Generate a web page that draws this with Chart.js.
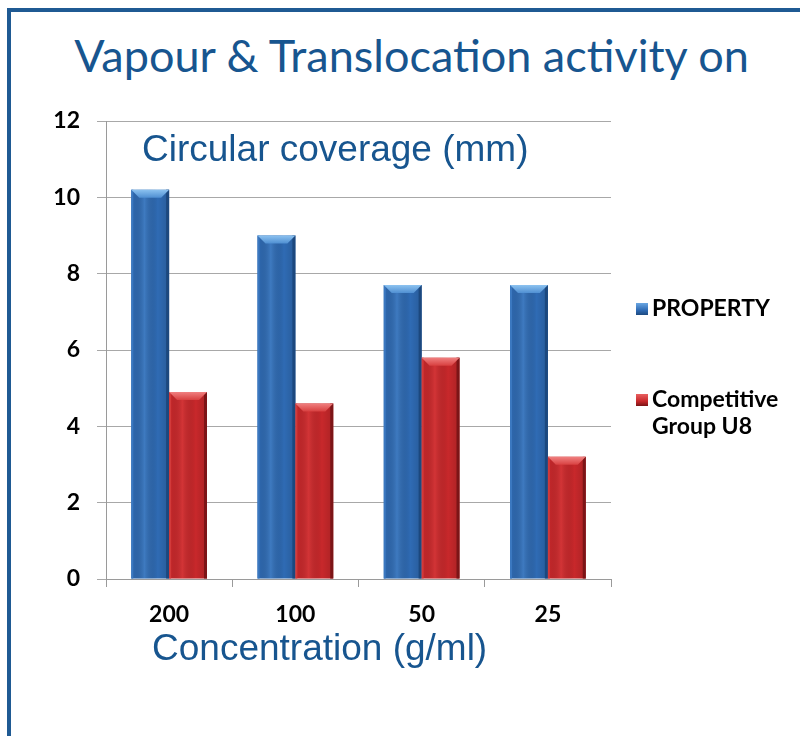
<!DOCTYPE html>
<html>
<head>
<meta charset="utf-8">
<script src="https://cdn.jsdelivr.net/npm/chart.js@4/dist/chart.umd.min.js"></script>
<style>
html,body{margin:0;padding:0;background:#fff;}
#wrap{position:relative;width:800px;height:736px;overflow:hidden;background:#fff;}
#topb{position:absolute;left:7px;top:8px;width:793px;height:4px;background:#1f5a93;}
#leftb{position:absolute;left:7px;top:8px;width:4px;height:728px;background:#1f5a93;}
#title{position:absolute;left:0;width:823px;top:28px;text-align:center;font-family:Lato,"Open Sans",sans-serif;font-size:45px;color:#17558f;white-space:nowrap;}
canvas{position:absolute;left:0;top:0;}
.ov{position:absolute;font-family:"Liberation Sans",Arial,sans-serif;color:#17558f;white-space:nowrap;}
#leg{position:absolute;left:636px;top:294px;font-family:Lato,sans-serif;font-weight:bold;font-size:23px;color:#000;}
.li{position:relative;padding-left:16px;line-height:27px;}
.sw{position:absolute;left:0;top:9px;width:12px;height:12px;}
</style>
</head>
<body>
<div id="wrap">
  <div id="topb"></div>
  <div id="leftb"></div>
  <div id="title">Vapour &amp; Translocation activity on</div>
  <canvas id="c" width="800" height="736"></canvas>
  <div class="ov" style="left:142px;top:128px;font-size:37px;">Circular coverage (mm)</div>
  <div class="ov" style="left:152px;top:627px;font-size:37px;">Concentration (g/ml)</div>
  <div id="leg">
    <div class="li"><span class="sw" style="background:linear-gradient(#6aa6e2,#2f6bb4 60%,#1d4a80);"></span>PROPERTY</div>
    <div class="li" style="margin-top:64px;"><span class="sw" style="background:linear-gradient(#e86060,#c8282b 60%,#7a1416);"></span>Competitive<br>Group U8</div>
  </div>
</div>
<script>
const categories = ["200", "100", "50", "25"];
const propertyValues = [10.2, 9.0, 7.7, 7.7];
const competitiveValues = [4.9, 4.6, 5.8, 3.2];
const yTicks = [0, 2, 4, 6, 8, 10, 12];
const seriesNames = ["PROPERTY", "Competitive Group U8"];

const bevel = {
  id: 'bevel',
  afterDatasetsDraw(chart) {
    const ctx = chart.ctx;
    const styles = [
      {cap:['#8cc2f0','#4f8fd2'], l:'#3b78c0', r:'#1c487e', mid:'rgba(90,150,215,0.35)'},
      {cap:['#f08080','#d84040'], l:'#d23a3a', r:'#7c1517', mid:'rgba(235,80,80,0.3)'}
    ];
    chart.data.datasets.forEach((ds, di) => {
      const meta = chart.getDatasetMeta(di);
      const st = styles[di];
      meta.data.forEach(bar => {
        const p = bar.getProps(['x','y','base','width'], true);
        const L = p.x - p.width/2, R = p.x + p.width/2, T = p.y, B = p.base;
        const b = Math.min(8, p.width/4);
        ctx.save();
        const hg = ctx.createLinearGradient(L, 0, R, 0);
        hg.addColorStop(0, 'rgba(0,0,0,0)');
        hg.addColorStop(0.35, st.mid);
        hg.addColorStop(0.7, 'rgba(0,0,0,0)');
        hg.addColorStop(1, 'rgba(0,0,0,0.15)');
        ctx.fillStyle = hg; ctx.fillRect(L, T, R - L, B - T);
        ctx.fillStyle = st.l; ctx.fillRect(L, T, 2, B - T);
        ctx.fillStyle = st.r; ctx.fillRect(R - 3, T, 3, B - T);
        const g = ctx.createLinearGradient(0, T, 0, T + b);
        g.addColorStop(0, st.cap[0]); g.addColorStop(1, st.cap[1]);
        ctx.fillStyle = g;
        ctx.beginPath();
        ctx.moveTo(L, T); ctx.lineTo(R, T); ctx.lineTo(R - b, T + b); ctx.lineTo(L + b, T + b); ctx.closePath();
        ctx.fill();
        ctx.restore();
      });
    });
  }
};

new Chart(document.getElementById('c'), {
  type: 'bar',
  data: {
    labels: categories,
    datasets: [
      {label: seriesNames[0], data: propertyValues, backgroundColor: '#2f6bb4', borderWidth: 0},
      {label: seriesNames[1], data: competitiveValues, backgroundColor: '#c8282b', borderWidth: 0}
    ]
  },
  options: {
    responsive: false,
    animation: false,
    devicePixelRatio: 1,
    layout: {padding: {left: 0, right: 189, top: 121, bottom: 97}},
    plugins: {legend: {display: false}, tooltip: {enabled: false}, title: {display: false}},
    datasets: {bar: {categoryPercentage: 0.6, barPercentage: 1}},
    scales: {
      x: {
        grid: {display: true, drawOnChartArea: false, drawTicks: true, tickLength: 8, color: '#9a9a9a', offset: true},
        border: {display: true, color: '#9a9a9a', width: 1},
        ticks: {color: '#000', font: {family: 'Lato', weight: 'bold', size: 23}, padding: 14},
        afterFit(s) { s.height = 60; }
      },
      y: {
        min: 0, max: 12,
        afterBuildTicks(s) { s.ticks = yTicks.map(v => ({value: v})); },
        grid: {color: '#a8a8a8', tickLength: 9, drawTicks: true},
        border: {display: true, color: '#9a9a9a'},
        ticks: {color: '#000', font: {family: 'Lato', weight: 'bold', size: 23}, padding: 17},
        afterFit(s) { s.width = 106; }
      }
    }
  },
  plugins: [bevel]
});
</script>
</body>
</html>
